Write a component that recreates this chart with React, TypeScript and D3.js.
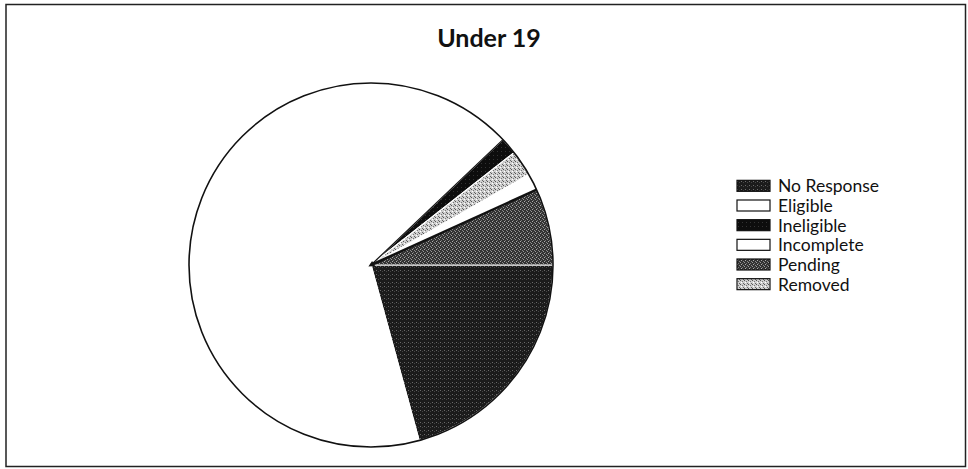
import React from "react";
import * as d3 from "d3";

const categories = ["No Response", "Eligible", "Ineligible", "Incomplete", "Pending", "Removed"];
const values = [20.75, 67.2, 1.5, 1.5, 6.8, 2.3];
// clockwise order in which the slices appear, starting at 3 o'clock
const drawOrder = ["No Response", "Eligible", "Ineligible", "Removed", "Incomplete", "Pending"];
const title = "Under 19";

const fills: Record<string, string> = {
  "No Response": "url(#patDark)",
  Eligible: "#ffffff",
  Ineligible: "url(#patBlack)",
  Incomplete: "#ffffff",
  Pending: "url(#patGrey)",
  Removed: "url(#patLight)",
};

const W = 968;
const H = 469;
const cx = 371;
const cy = 265;
const R = 182;

export default function App() {
  const data = categories.map((name, i) => ({ name, value: values[i] }));
  const pie = d3
    .pie<{ name: string; value: number }>()
    .value((d) => d.value)
    .sort((a, b) => drawOrder.indexOf(a.name) - drawOrder.indexOf(b.name))
    .startAngle(Math.PI / 2)
    .endAngle(Math.PI / 2 + 2 * Math.PI);
  const arcs = pie(data);
  const arc = d3.arc<d3.PieArcDatum<{ name: string; value: number }>>().innerRadius(0).outerRadius(R);

  const pending = arcs.find((a) => a.data.name === "Pending")!;
  const ineligible = arcs.find((a) => a.data.name === "Ineligible")!;
  const radial = (ang: number) => [Math.sin(ang) * R, -Math.cos(ang) * R];
  const [px, py] = radial(pending.startAngle);
  const [ix, iy] = radial(ineligible.startAngle);

  const legendY = d3.scaleBand<string>().domain(categories).range([176, 294]);

  return (
    <svg width={W} height={H} style={{ position: "absolute", left: 0, top: 0, background: "#fff" }}>
      <defs>
        <pattern id="patDark" width="4" height="4" patternUnits="userSpaceOnUse">
          <rect width="4" height="4" fill="#1b1b1b" />
          <rect x="1" y="1" width="1" height="1" fill="#6a6a6a" />
          <rect x="3" y="2" width="1" height="1" fill="#444" />
        </pattern>
        <pattern id="patBlack" width="4" height="4" patternUnits="userSpaceOnUse">
          <rect width="4" height="4" fill="#0d0d0d" />
          <rect x="2" y="2" width="1" height="1" fill="#333" />
        </pattern>
        <pattern id="patGrey" width="4" height="4" patternUnits="userSpaceOnUse">
          <rect width="4" height="4" fill="#333" />
          <rect x="1" y="0" width="1" height="1" fill="#aaa" />
          <rect x="3" y="1" width="1" height="1" fill="#888" />
          <rect x="0" y="2" width="1" height="1" fill="#999" />
          <rect x="2" y="3" width="1" height="1" fill="#777" />
        </pattern>
        <pattern id="patLight" width="4" height="4" patternUnits="userSpaceOnUse">
          <rect width="4" height="4" fill="#cfcfcf" />
          <rect x="0" y="0" width="1" height="1" fill="#555" />
          <rect x="2" y="1" width="1" height="1" fill="#777" />
          <rect x="3" y="3" width="1" height="1" fill="#666" />
          <rect x="1" y="2" width="1" height="1" fill="#fff" />
        </pattern>
      </defs>
      <rect x={6} y={4.5} width={959.5} height={462} fill="#fff" stroke="#222" strokeWidth={1.5} />
      <text
        x={489}
        y={47}
        textAnchor="middle"
        fontFamily="Lato, 'Open Sans', sans-serif"
        fontWeight="bold"
        fontSize={25}
        fill="#111"
      >
        {title}
      </text>
      <g transform={`translate(${cx},${cy})`}>
        {arcs.map((a) => (
          <path key={a.data.name} d={arc(a) || ""} fill={fills[a.data.name]} stroke="#fff" strokeWidth={1.2} />
        ))}
        <line x1={0} y1={0} x2={px} y2={py} stroke="#111" strokeWidth={2.5} />
        <line x1={0} y1={0} x2={ix} y2={iy} stroke="#111" strokeWidth={1.2} />
        <circle r={R} fill="none" stroke="#111" strokeWidth={1.6} />
        <path d={`M-3,0 L3,-3 L3,3 Z`} fill="#111" transform="rotate(-30)" />
      </g>
      <g fontFamily="Lato, 'Open Sans', sans-serif" fontSize={17.5} fill="#111">
        {categories.map((c) => {
          const y = (legendY(c) || 0) + legendY.bandwidth() / 2;
          return (
            <g key={c}>
              <rect x={737} y={y - 5.5} width={33} height={11} fill={fills[c]} stroke="#111" strokeWidth={1.2} />
              <text x={778} y={y} dominantBaseline="central">
                {c}
              </text>
            </g>
          );
        })}
      </g>
    </svg>
  );
}
